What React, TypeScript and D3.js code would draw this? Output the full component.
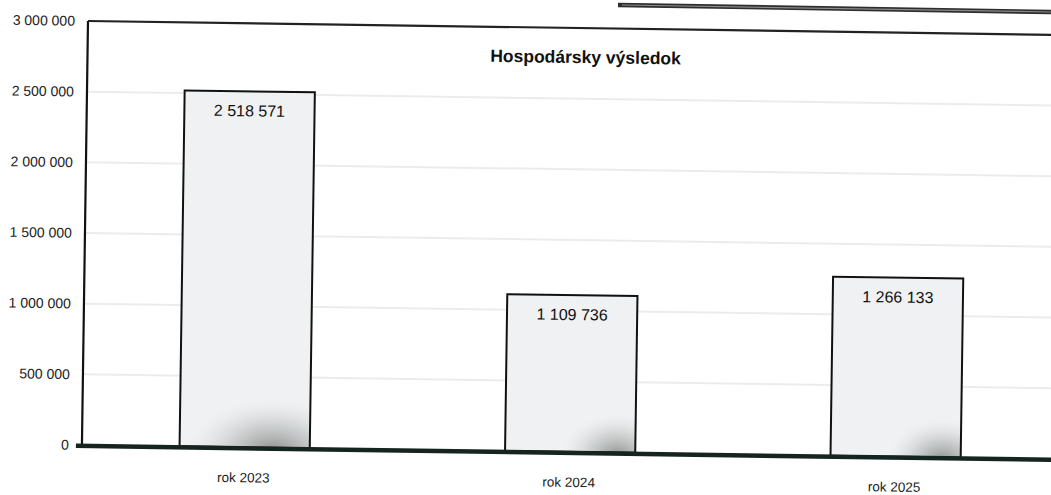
import React from "react";
import * as d3 from "d3";

const categories = ["rok 2023", "rok 2024", "rok 2025"];
const values = [2518571, 1109736, 1266133];
const yTicks = [0, 500000, 1000000, 1500000, 2000000, 2500000, 3000000];
const title = "Hospodársky výsledok";

const W = 1051;
const H = 495;
const left = 88;
const top = 21;
const bottom = 445;
const right = 1064.5;

const fmt = (v: number) => d3.format(",")(v).replace(/,/g, " ");

export default function App() {
  const x = d3.scaleBand<string>().domain(categories).range([left, right]).paddingInner(0.6).paddingOuter(0.3);
  const y = d3.scaleLinear().domain([0, 3000000]).range([bottom, top]);
  const font = "'Liberation Sans', Arial, sans-serif";
  return (
    <svg width={W} height={H} style={{ position: "absolute", left: 0, top: 0, background: "#fff" }} fontFamily={font}>
      <defs>
        <radialGradient id="shade" cx="0.5" cy="0.5" r="0.5">
          <stop offset="0" stopColor="#707372" stopOpacity="0.8" />
          <stop offset="0.5" stopColor="#a3a6a5" stopOpacity="0.45" />
          <stop offset="1" stopColor="#d5d8d7" stopOpacity="0" />
        </radialGradient>
        <filter id="blur" x="-10%" y="-100%" width="120%" height="300%">
          <feGaussianBlur stdDeviation="1.5" />
        </filter>
        {categories.map((c, i) => (
          <clipPath id={`clip${i}`} key={c}>
            <rect x={x(c)} y={y(values[i])} width={x.bandwidth()} height={bottom - y(values[i])} />
          </clipPath>
        ))}
      </defs>
      {/* scan artifact line at top */}
      <line x1={618} y1={5} x2={1051} y2={12} stroke="#2e2e2e" strokeWidth={4.5} />
      <line x1={622} y1={5} x2={1051} y2={12} stroke="#8a8a8a" strokeWidth={1.2} />
      <g transform={`rotate(0.82, ${left}, ${top})`}>
        {/* gridlines */}
        {yTicks.filter((t) => t > 0 && t < 3000000).map((t) => (
          <line key={t} x1={left} x2={right} y1={y(t)} y2={y(t)} stroke="#ebeceb" strokeWidth={2} />
        ))}
        {/* y labels */}
        {yTicks.map((t) => (
          <text key={t} x={75} y={y(t)} dy="0.35em" textAnchor="end" fontSize={14} fill="#222">
            {fmt(t)}
          </text>
        ))}
        {/* bars */}
        {categories.map((c, i) => {
          const bx = x(c) as number;
          const by = y(values[i]);
          const bw = x.bandwidth();
          const bh = bottom - by;
          const big = i === 0;
          return (
            <g key={c}>
              <rect x={bx} y={by} width={bw} height={bh} fill="#eff1f2" />
              <g clipPath={`url(#clip${i})`}>
                <ellipse
                  cx={bx + bw * (big ? 0.72 : 0.86)}
                  cy={bottom + 4}
                  rx={big ? 85 : 55}
                  ry={big ? 52 : 42}
                  fill="url(#shade)"
                />
              </g>
              <rect x={bx} y={by} width={bw} height={bh} fill="none" stroke="#111" strokeWidth={2} />
              <text x={bx + bw / 2} y={by + 25} textAnchor="middle" fontSize={16} fill="#111">
                {fmt(values[i])}
              </text>
            </g>
          );
        })}
        {/* frame */}
        <line x1={left} x2={left} y1={top} y2={bottom} stroke="#111" strokeWidth={2.2} />
        <line x1={left} x2={right} y1={top} y2={top} stroke="#222" strokeWidth={2.2} />
        {/* baseline */}
        <line x1={left - 6} x2={right} y1={bottom + 4} y2={bottom + 4} stroke="#6f7672" strokeWidth={3} filter="url(#blur)" />
        <line x1={left - 6} x2={right} y1={bottom + 1} y2={bottom + 1} stroke="#15241e" strokeWidth={4.5} />
        {/* category labels */}
        {categories.map((c) => (
          <text key={c} x={(x(c) as number) + x.bandwidth() / 2 - 1} y={bottom + 35} textAnchor="middle" fontSize={13.5} fill="#222">
            {c}
          </text>
        ))}
        {/* title */}
        <text x={586} y={56} textAnchor="middle" fontSize={17.5} fontWeight="bold" fill="#111">
          {title}
        </text>
      </g>
    </svg>
  );
}
